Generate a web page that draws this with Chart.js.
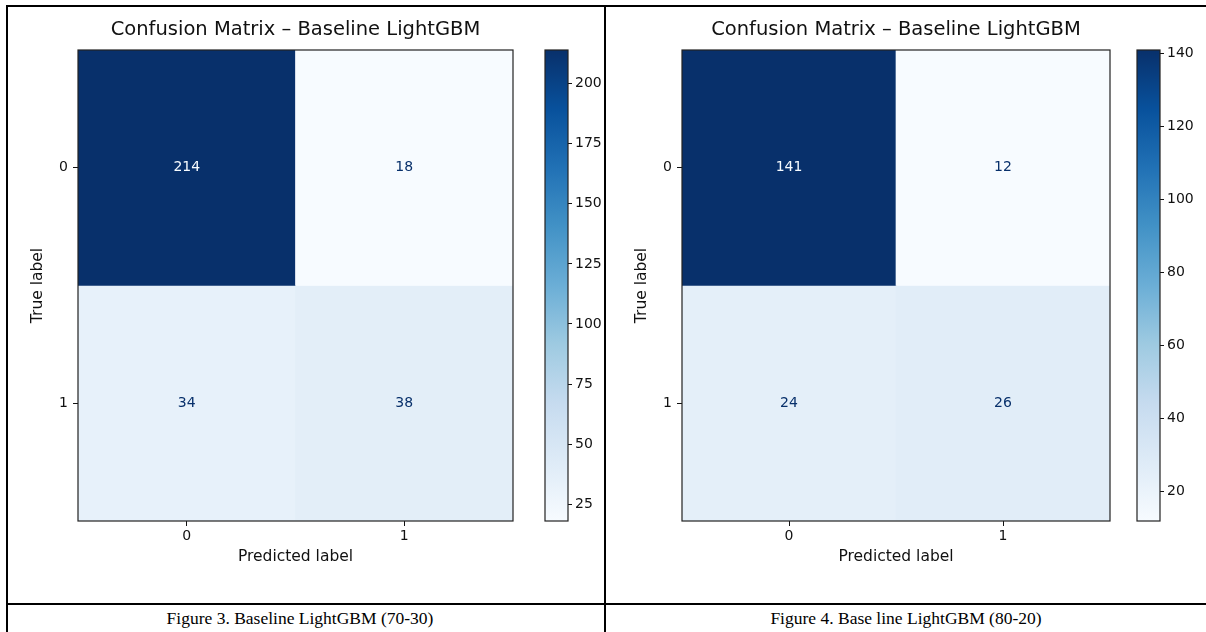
<!DOCTYPE html>
<html>
<head>
<meta charset="utf-8">
<title>Confusion Matrix – Baseline LightGBM</title>
<script src="https://cdn.jsdelivr.net/npm/chart.js@4.4.1/dist/chart.umd.min.js"></script>
<style>
  html, body { margin: 0; padding: 0; background: #fff; }
  #page { position: relative; width: 1206px; height: 632px; overflow: hidden; background: #fff; }
  #page canvas { position: absolute; }
  .rule { position: absolute; background: #000; }
  .caption {
    position: absolute; top: 605px; height: 27px;
    font-family: "Liberation Serif", "Times New Roman", serif;
    font-size: 17.5px; line-height: 26px; color: #000; text-align: center;
  }
</style>
</head>
<body>
<div id="page">
  <!-- table rules -->
  <div class="rule" style="left:6px;top:5px;width:1200px;height:2px"></div>
  <div class="rule" style="left:6px;top:5px;width:2px;height:627px"></div>
  <div class="rule" style="left:604px;top:5px;width:2px;height:627px"></div>
  <div class="rule" style="left:6px;top:603px;width:1200px;height:2px"></div>

  <canvas id="cm-7030" width="510" height="590" style="left:20px;top:10px"></canvas>
  <canvas id="cb-7030" width="70" height="590" style="left:535px;top:10px"></canvas>
  <canvas id="cm-8020" width="503" height="590" style="left:624px;top:10px"></canvas>
  <canvas id="cb-8020" width="70" height="590" style="left:1127px;top:10px"></canvas>

  <div class="caption" style="left:8px;width:584px">Figure 3. Baseline LightGBM (70-30)</div>
  <div class="caption" style="left:606px;width:600px">Figure 4. Base line LightGBM (80-20)</div>
</div>

<script>
/* ---------- data ---------- */
const chartTitle   = 'Confusion Matrix – Baseline LightGBM';
const trueLabels   = ['0', '1'];   // rows
const predLabels   = ['0', '1'];   // columns

// 70-30 split
const cm7030Row0 = [214, 18];
const cm7030Row1 = [34, 38];
const cbTicks7030 = [25, 50, 75, 100, 125, 150, 175, 200];

// 80-20 split
const cm8020Row0 = [141, 12];
const cm8020Row1 = [24, 26];
const cbTicks8020 = [20, 40, 60, 80, 100, 120, 140];

/* ---------- matplotlib "Blues" ---------- */
const bluesStops = ['#f7fbff', '#deebf7', '#c6dbef', '#9ecae1', '#6baed6',
                    '#4292c6', '#2171b5', '#08519c', '#08306b'];

function hexRgb(h) {
  return [parseInt(h.slice(1, 3), 16), parseInt(h.slice(3, 5), 16), parseInt(h.slice(5, 7), 16)];
}

function blues(t) {
  t = Math.max(0, Math.min(1, t));
  const pos = t * (bluesStops.length - 1);
  const i = Math.min(Math.floor(pos), bluesStops.length - 2);
  const f = pos - i;
  const a = hexRgb(bluesStops[i]), b = hexRgb(bluesStops[i + 1]);
  const c = a.map((v, k) => Math.round(v + (b[k] - v) * f));
  return `rgb(${c[0]},${c[1]},${c[2]})`;
}

const FONT = '"DejaVu Sans", Verdana, sans-serif';
const INK  = '#111';
const TICK_SIZE  = 14;
const LABEL_SIZE = 15.5;

// black outline round the plot area (matplotlib spines)
const frame = {
  id: 'frame',
  afterDatasetsDraw(chart) {
    const { ctx, chartArea: a } = chart;
    ctx.save();
    ctx.strokeStyle = '#222';
    ctx.lineWidth = 1.2;
    ctx.strokeRect(a.left, a.top, a.right - a.left, a.bottom - a.top);
    ctx.restore();
  }
};

function renderMatrix(id, rows) {
  const all  = rows.flat();
  const vmin = Math.min(...all), vmax = Math.max(...all);
  const thresh = (vmin + vmax) / 2;

  const cellText = {
    id: 'cellText',
    afterDatasetsDraw(chart) {
      const { ctx } = chart;
      ctx.save();
      ctx.font = `${TICK_SIZE}px ${FONT}`;
      ctx.textAlign = 'center';
      ctx.textBaseline = 'middle';
      rows.forEach((row, r) => {
        const meta = chart.getDatasetMeta(r);
        row.forEach((v, c) => {
          const p = meta.data[c].getCenterPoint();
          ctx.fillStyle = v >= thresh ? bluesStops[0] : bluesStops[8];
          ctx.fillText(String(v), p.x, p.y);
        });
      });
      ctx.restore();
    }
  };

  return new Chart(document.getElementById(id), {
    type: 'bar',
    data: {
      labels: predLabels,
      datasets: rows.map((row, r) => ({
        label: 'True ' + trueLabels[r],
        data: predLabels.map(() => [r - 0.5, r + 0.5]),
        backgroundColor: row.map(v => blues((v - vmin) / (vmax - vmin))),
        borderWidth: 0,
        barPercentage: 1,
        categoryPercentage: 1,
        grouped: false,
      })),
    },
    options: {
      responsive: false,
      animation: false,
      layout: { padding: { top: 0, right: 17, bottom: 33, left: 0 } },
      plugins: {
        legend: { display: false },
        tooltip: { enabled: false },
        title: {
          display: true,
          text: chartTitle,
          fullSize: false,
          color: INK,
          font: { family: FONT, size: 19.5, weight: 'normal', lineHeight: 1.2 },
          padding: { top: 8, bottom: 8.6 },
        },
      },
      scales: {
        x: {
          type: 'category',
          position: 'bottom',
          offset: true,
          afterFit: s => { s.height = 46; },
          grid: { drawOnChartArea: false, offset: false, tickLength: 5, color: INK, tickWidth: 1 },
          border: { display: false },
          ticks: { color: INK, padding: 2, font: { family: FONT, size: TICK_SIZE } },
          title: {
            display: true, text: 'Predicted label', color: INK,
            font: { family: FONT, size: LABEL_SIZE }, padding: { top: 4, bottom: 1 },
          },
        },
        y: {
          type: 'linear',
          position: 'left',
          min: -0.5,
          max: 1.5,
          reverse: true,
          afterFit: s => { s.width = 58; },
          afterBuildTicks: s => { s.ticks = trueLabels.map((_, i) => ({ value: i })); },
          grid: { drawOnChartArea: false, tickLength: 5, color: INK, tickWidth: 1 },
          border: { display: false },
          ticks: {
            color: INK, padding: 5, font: { family: FONT, size: TICK_SIZE },
            callback: v => trueLabels[v],
          },
          title: {
            display: true, text: 'True label', color: INK,
            font: { family: FONT, size: LABEL_SIZE }, padding: { top: 9, bottom: 4 },
          },
        },
      },
    },
    plugins: [cellText, frame],
  });
}

function renderColorbar(id, rows, ticks) {
  const all  = rows.flat();
  const vmin = Math.min(...all), vmax = Math.max(...all);

  return new Chart(document.getElementById(id), {
    type: 'bar',
    data: {
      labels: [''],
      datasets: [{
        data: [[vmin, vmax]],
        borderWidth: 0,
        barPercentage: 1,
        categoryPercentage: 1,
        backgroundColor: ctx => {
          const area = ctx.chart.chartArea;
          if (!area) return blues(0.5);
          const g = ctx.chart.ctx.createLinearGradient(0, area.bottom, 0, area.top);
          bluesStops.forEach((c, i) => g.addColorStop(i / (bluesStops.length - 1), c));
          return g;
        },
      }],
    },
    options: {
      responsive: false,
      animation: false,
      layout: { padding: { top: 40, right: 0, bottom: 79, left: 10 } },
      plugins: { legend: { display: false }, tooltip: { enabled: false } },
      scales: {
        x: { display: false, offset: true },
        y: {
          type: 'linear',
          position: 'right',
          min: vmin,
          max: vmax,
          afterFit: s => { s.width = 37; },
          afterBuildTicks: s => { s.ticks = ticks.map(v => ({ value: v })); },
          grid: { drawOnChartArea: false, tickLength: 4, color: INK, tickWidth: 1 },
          border: { display: false },
          ticks: { color: INK, padding: 3, font: { family: FONT, size: TICK_SIZE } },
        },
      },
    },
    plugins: [frame],
  });
}

renderMatrix('cm-7030', [cm7030Row0, cm7030Row1]);
renderColorbar('cb-7030', [cm7030Row0, cm7030Row1], cbTicks7030);
renderMatrix('cm-8020', [cm8020Row0, cm8020Row1]);
renderColorbar('cb-8020', [cm8020Row0, cm8020Row1], cbTicks8020);
</script>
</body>
</html>
